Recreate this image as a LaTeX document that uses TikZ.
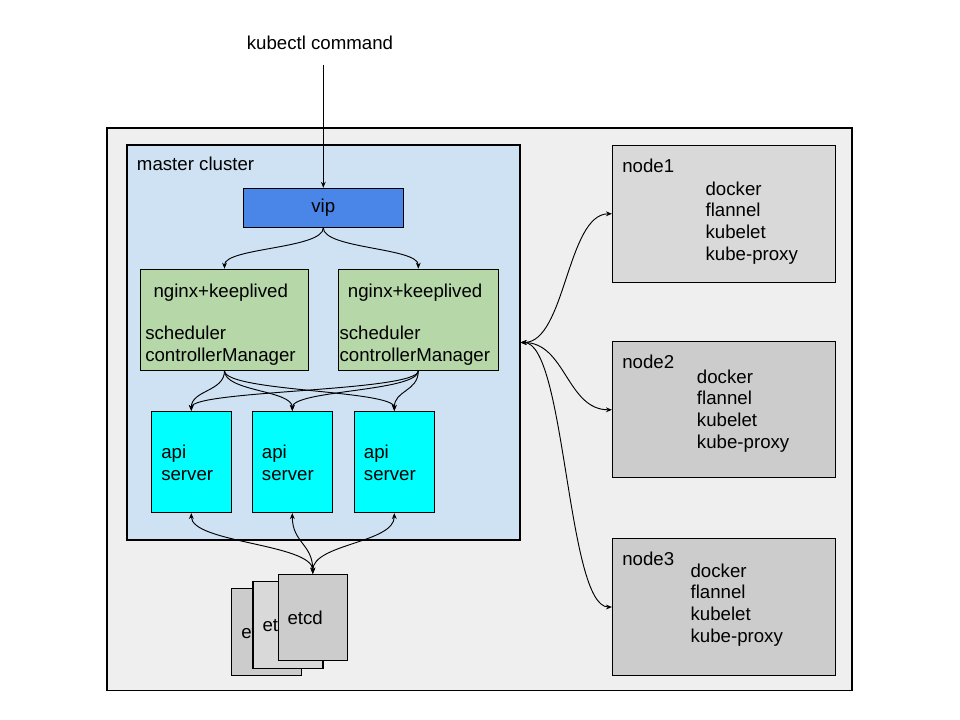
\documentclass[tikz,border=0pt]{standalone}
\usepackage{fontspec}
\setmainfont{Liberation Sans}
\usetikzlibrary{arrows.meta}
\definecolor{outerbg}{HTML}{EFEFEF}
\definecolor{masterbg}{HTML}{CFE2F3}
\definecolor{vipbg}{HTML}{4A86E8}
\definecolor{nginxbg}{HTML}{B6D7A8}
\definecolor{apibg}{HTML}{00FFFF}
\definecolor{graylight}{HTML}{D9D9D9}
\definecolor{graydark}{HTML}{CCCCCC}
\tikzset{
  box/.style={draw, line width=0.8pt, inner sep=0pt},
  wh/.style 2 args={minimum width=#1*0.75pt, minimum height=#2*0.75pt},
  txt/.style={inner sep=0pt, anchor=base west, align=left},
  arr/.style={-{Stealth[length=4.5pt,width=3.6pt]}, line width=0.7pt},
  dbl/.style={{Stealth[length=4.5pt,width=3.6pt]}-{Stealth[length=4.5pt,width=3.6pt]}, line width=0.7pt}
}
\begin{document}
\begin{tikzpicture}[x=0.75pt, y=-0.75pt, font=\fontsize{14pt}{16.4pt}\selectfont]
\useasboundingbox (0,0) rectangle (960,720);
\draw[fill=outerbg, line width=0.8pt] (107,128) rectangle (852,690.5);
\node[txt, anchor=base] (cmd) at (320,49.3) {kubectl command};
% master cluster
\node[box, fill=masterbg, wh={393}{395}] (master) at (323.5,342.5) {};
\node[txt] (mastertxt) at (136.7,171) {master cluster};
\node[box, fill=vipbg, wh={160}{39}] (vip) at (323.3,207.8) {vip};
\node[box, fill=nginxbg, wh={168}{101}] (nginxa) at (224.5,319.7) {};
\node[box, fill=nginxbg, wh={160}{101}] (nginxb) at (418.3,319.7) {};
\node[txt] (nginxatop) at (153.3,297) {nginx+keeplived};
\node[txt] (nginxabot) at (145,361) {scheduler\\controllerManager};
\node[txt] (nginxbtop) at (347.7,297) {nginx+keeplived};
\node[txt] (nginxbbot) at (339.3,361) {scheduler\\controllerManager};
\node[box, fill=apibg, wh={80}{101}] (apia) at (191.3,462) {};
\node[box, fill=apibg, wh={80}{101}] (apib) at (292.3,462) {};
\node[box, fill=apibg, wh={80}{101}] (apic) at (394.3,462) {};
\node[txt] (apiatxt) at (161,480) {api\\server};
\node[txt] (apibtxt) at (261.7,480) {api\\server};
\node[txt] (apictxt) at (363.7,480) {api\\server};
% etcd
\node[box, fill=graydark, wh={70}{87}] (etcda) at (266.5,631.8) {};
\node[txt] (etcdatxt) at (241,638.7) {etcd};
\node[box, fill=graylight, wh={70}{87}] (etcdb) at (288,624.8) {};
\node[txt] (etcdbtxt) at (262.3,631.7) {etcd};
\node[box, fill=graydark, wh={69}{86}] (etcdc) at (312.8,617.3) {};
\node[txt] (etcdctxt) at (287.3,624.3) {etcd};
% nodes
\node[box, fill=graylight, wh={223}{137}] (nodea) at (724,213.8) {};
\node[txt] (nodealbl) at (622,172.3) {node1};
\node[txt] (nodealist) at (705.3,260.7) {docker\\flannel\\kubelet\\kube-proxy};
\node[box, fill=graydark, wh={223}{136}] (nodeb) at (724,409.8) {};
\node[txt] (nodeblbl) at (622,368.3) {node2};
\node[txt] (nodeblist) at (696.7,448.7) {docker\\flannel\\kubelet\\kube-proxy};
\node[box, fill=graydark, wh={223}{137}] (nodec) at (724,607) {};
\node[txt] (nodeclbl) at (622,565.3) {node3};
\node[txt] (nodeclist) at (690.3,642.7) {docker\\flannel\\kubelet\\kube-proxy};
% connectors
\draw[arr, shorten <=11.25pt] (cmd.south -| vip.north) -- (vip.north);
\draw[arr] (vip.south) .. controls +(0,21) and +(0,-21) .. (nginxa.north);
\draw[arr] (vip.south) .. controls +(0,21) and +(0,-21) .. (nginxb.north);
\draw[arr] (nginxa.south) .. controls +(0,21) and +(0,-21) .. (apia.north);
\draw[arr] (nginxa.south) .. controls +(0,21) and +(0,-21) .. (apib.north);
\draw[arr] (nginxa.south) .. controls +(0,21) and +(0,-21) .. (apic.north);
\draw[arr] (nginxb.south) .. controls +(0,21) and +(0,-21) .. (apia.north);
\draw[arr] (nginxb.south) .. controls +(0,21) and +(0,-21) .. (apib.north);
\draw[arr] (nginxb.south) .. controls +(0,21) and +(0,-21) .. (apic.north);
\draw[dbl] (apia.south) .. controls +(0,30) and +(0,-30) .. (etcdc.north);
\draw[dbl] (apib.south) .. controls +(0,30) and +(0,-30) .. (etcdc.north);
\draw[dbl] (apic.south) .. controls +(0,30) and +(0,-30) .. (etcdc.north);
\draw[dbl] (master.east) .. controls +(45,0) and +(-45,0) .. (nodea.west);
\draw[dbl] (master.east) .. controls +(45,0) and +(-45,0) .. (nodeb.west);
\draw[dbl] (master.east) .. controls +(45,0) and +(-45,0) .. (nodec.west);
\end{tikzpicture}
\end{document}
